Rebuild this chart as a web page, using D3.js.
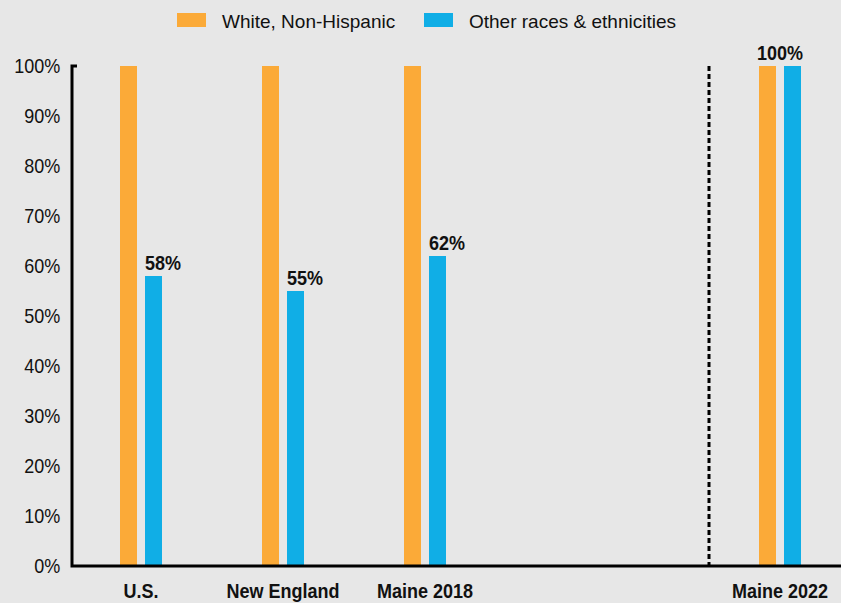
<!DOCTYPE html>
<html><head><meta charset="utf-8">
<script src="https://cdn.jsdelivr.net/npm/d3@7"></script>
<style>
html,body{margin:0;padding:0;background:#e7e7e7;}
text{font-family:"Liberation Sans","Arial",sans-serif;fill:#111;}
</style></head>
<body><svg id="c" width="841" height="603"></svg>
<script>
const categoriesLeft = ["U.S.", "New England", "Maine 2018"];
const categoriesRight = ["Maine 2022"];
const seriesNames = ["White, Non-Hispanic", "Other races & ethnicities"];
const whiteValues = [100, 100, 100, 100];
const otherValues = [58, 55, 62, 100];
const yTicks = [0,10,20,30,40,50,60,70,80,90,100];
const colors = ["#fbaa38", "#10aee6"];

(function(){
const svg = d3.select("#c");
const W = 841, H = 603;
const SX = 0.9;
svg.append("rect").attr("width", W).attr("height", H).attr("fill", "#e7e7e7");

const mLeft = 72, mBottom = 566, mTop = 66;
const y = d3.scaleLinear().domain([0, 100]).range([mBottom, mTop]);
const xL = d3.scaleBand().domain(categoriesLeft).range([70, 70 + 426]);
const xR = d3.scaleBand().domain(categoriesRight).range([709, 851]);
const allCats = categoriesLeft.concat(categoriesRight);
const xc = c => (xL.domain().includes(c) ? xL(c) + xL.bandwidth()/2 : xR(c) + xR.bandwidth()/2);
const xs = d3.scaleBand().domain(seriesNames).range([-21, 21]).paddingInner(0.32);

function ctext(x, yy, str, size, bold, anchor) {
  return svg.append("text")
    .attr("transform", `translate(${x},${yy}) scale(${SX},1)`)
    .attr("font-size", size).attr("font-weight", bold ? "bold" : "normal")
    .attr("text-anchor", anchor || "start").text(str);
}

// Legend
const legX = [177, 424];
seriesNames.forEach((s, i) => {
  svg.append("rect").attr("x", legX[i]).attr("y", 13).attr("width", 29).attr("height", 14).attr("fill", colors[i]);
  svg.append("text").attr("x", legX[i] + 45).attr("y", 28).attr("font-size", 19).text(s);
});

// Y axis labels
const yAxis = d3.axisLeft(y).tickValues(yTicks).tickFormat(d => d + "%").tickSize(0).tickPadding(13);
const ga = svg.append("g").attr("transform", `translate(${mLeft},0)`).call(yAxis);
ga.select(".domain").remove();
ga.selectAll("text").attr("font-size", 20).attr("font-family", '"Liberation Sans",Arial,sans-serif')
  .attr("fill", "#111").attr("transform", `scale(${SX},1)`);

// Bars
const data = allCats.map((c, i) => ({c, vals: [whiteValues[i], otherValues[i]]}));
data.forEach(d => {
  d.vals.forEach((v, j) => {
    svg.append("rect")
      .attr("x", xc(d.c) + xs(seriesNames[j]))
      .attr("y", y(v))
      .attr("width", xs.bandwidth())
      .attr("height", y(0) - y(v))
      .attr("fill", colors[j]);
  });
});

// Value labels
data.forEach(d => {
  const v = d.vals[1];
  if (d.c === "Maine 2022") {
    ctext(xc(d.c), y(v) - 6, v + "%", 20, true, "middle");
  } else {
    ctext(xc(d.c) + xs(seriesNames[1]), y(v) - 6, v + "%", 20, true, "start");
  }
});

// Dashed divider
svg.append("line").attr("x1", 709).attr("x2", 709).attr("y1", y(100)).attr("y2", mBottom)
  .attr("stroke", "#000").attr("stroke-width", 3).attr("stroke-dasharray", "5,3");

// Axes lines
svg.append("path").attr("d", `M${mLeft+5},${mTop} H${mLeft} V${mBottom} H${W}`)
  .attr("fill", "none").attr("stroke", "#000").attr("stroke-width", 3);

// Category labels
allCats.forEach(c => {
  ctext(xc(c), 598, c, 20, true, "middle");
});
})();
</script></body></html>
